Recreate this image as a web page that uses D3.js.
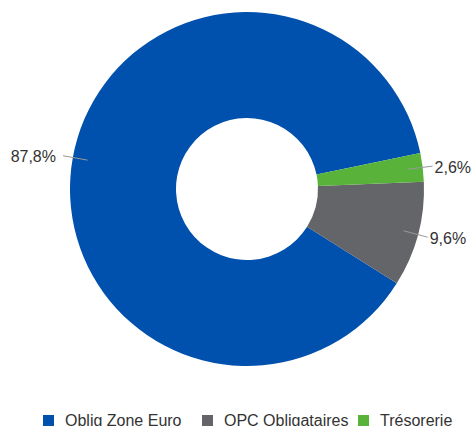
<!DOCTYPE html>
<html>
<head>
<meta charset="utf-8">
<script src="https://cdn.jsdelivr.net/npm/d3@7"></script>
<style>
  body { margin: 0; background: #fff; }
  text { font-family: "Liberation Sans", Arial, sans-serif; fill: #333; }
</style>
</head>
<body>
<div class="chart"></div>
<script>
var categories = ["Oblig Zone Euro", "OPC Obligataires", "Trésorerie"];
var values = [87.8, 9.6, 2.6];
var labels = ["87,8%", "9,6%", "2,6%"];
var colors = ["#0050ae", "#636569", "#59b33b"];

var width = 472, height = 426;
var cx = 247, cy = 189, outerR = 177, innerR = 71;

var svg = d3.select(".chart").append("svg")
    .attr("width", width)
    .attr("height", height);

var g = svg.append("g").attr("transform", "translate(" + cx + "," + cy + ")");

// counter-clockwise, green slice ends at ~78 deg from the top
var end = 78.3 * Math.PI / 180;
var pie = d3.pie().sort(null)
    .startAngle(end + 2 * Math.PI)
    .endAngle(end);

var arcs = pie(values);
var arc = d3.arc().innerRadius(innerR).outerRadius(outerR);

g.selectAll("path.slice")
    .data(arcs)
  .enter().append("path")
    .attr("class", "slice")
    .attr("d", arc)
    .attr("fill", function(d, i) { return colors[i]; });

function polar(a, r) {
    return [r * Math.sin(a), -r * Math.cos(a)];
}

arcs.forEach(function(d, i) {
    var mid = (d.startAngle + d.endAngle) / 2;
    var p0 = polar(mid, 162), p1 = polar(mid, 187);
    g.append("line")
	.attr("x1", p0[0]).attr("y1", p0[1])
	.attr("x2", p1[0]).attr("y2", p1[1])
	.attr("stroke", "#999")
	.attr("stroke-width", 1);
    var left = Math.sin(mid) < 0;
    g.append("text")
	.attr("x", p1[0] + (left ? -7 : 2))
	.attr("y", p1[1] + 1)
	.attr("dy", "0.35em")
	.attr("text-anchor", left ? "end" : "start")
	.style("font-size", "16px")
	.text(labels[i]);
});

// legend
var legendX = [43, 202, 358];
var legend = svg.selectAll("g.legend")
    .data(categories)
  .enter().append("g")
    .attr("class", "legend")
    .attr("transform", function(d, i) { return "translate(" + legendX[i] + ",415)"; });

legend.append("rect")
    .attr("width", 11).attr("height", 11)
    .attr("fill", function(d, i) { return colors[i]; });

legend.append("text")
    .attr("x", 22)
    .attr("y", 11)
    .style("font-size", "16px")
    .text(function(d) { return d; });
</script>
</body>
</html>
